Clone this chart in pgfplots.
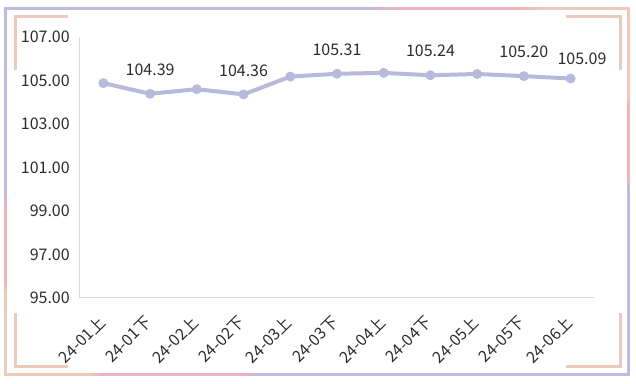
\documentclass[border=0pt]{standalone}
\usepackage{pgfplots}
\pgfplotsset{compat=1.18}
\usepackage{fontspec}
\setmainfont{Noto Sans CJK SC}
\definecolor{lav}{RGB}{189,187,222}
\definecolor{pinkc}{RGB}{237,178,188}
\definecolor{peach}{RGB}{237,203,188}
\definecolor{linec}{RGB}{186,185,220}
\definecolor{axgray}{RGB}{217,217,217}
\definecolor{textc}{RGB}{45,45,45}
% horizontal gradient: x1 x2 y1 y2 colA colB
\newcommand{\hgrad}[6]{\foreach \i in {0,...,9}{\pgfmathtruncatemacro\p{\i*100/9}\pgfmathsetmacro\xa{#1+(#2-#1)*\i/10}\pgfmathsetmacro\xb{#1+(#2-#1)*(\i+1)/10+0.4}\fill[#6!\p!#5] (\xa,#3) rectangle (\xb,#4);}}
% vertical gradient: y1 y2 x1 x2 colA colB
\newcommand{\vgrad}[6]{\foreach \i in {0,...,9}{\pgfmathtruncatemacro\p{\i*100/9}\pgfmathsetmacro\ya{#1+(#2-#1)*\i/10}\pgfmathsetmacro\yb{#1+(#2-#1)*(\i+1)/10+0.4}\fill[#6!\p!#5] (#3,\ya) rectangle (#4,\yb);}}
\begin{document}
\begin{tikzpicture}
\path[use as bounding box] (0,0) rectangle (477pt,288pt);
\fill[white] (0,0) rectangle (477pt,288pt);
\begin{scope}[shift={(0pt,288pt)},x=0.75pt,y=-0.75pt]
% top border
\fill[lav] (3.5,7.5) rectangle (365.4,10.5);
\hgrad{365}{400}{7.5}{10.5}{lav}{pinkc}
\fill[pinkc] (400,7.5) rectangle (515.4,10.5);
\hgrad{515}{550}{7.5}{10.5}{pinkc}{peach}
\fill[peach] (550,7.5) rectangle (629.5,10.5);
% left border
\fill[lav] (3.5,7.5) rectangle (6.5,190.4);
\vgrad{190}{205}{3.5}{6.5}{lav}{pinkc}
\fill[pinkc] (3.5,205) rectangle (6.5,280.4);
\vgrad{280}{295}{3.5}{6.5}{pinkc}{peach}
\fill[peach] (3.5,295) rectangle (6.5,376.5);
% right border
\fill[peach] (626.5,7.5) rectangle (629.5,95.4);
\vgrad{95}{108}{626.5}{629.5}{peach}{pinkc}
\fill[pinkc] (626.5,108) rectangle (629.5,178.4);
\vgrad{178}{190}{626.5}{629.5}{pinkc}{lav}
\fill[lav] (626.5,190) rectangle (629.5,376.5);
% bottom border
\fill[peach] (3.5,373.5) rectangle (85.4,376.5);
\hgrad{85}{105}{373.5}{376.5}{peach}{pinkc}
\fill[pinkc] (105,373.5) rectangle (240.4,376.5);
\hgrad{240}{260}{373.5}{376.5}{pinkc}{lav}
\fill[lav] (260,373.5) rectangle (629.5,376.5);
% corner brackets
\draw[peach, line width=2.25pt] (15,70) -- (15,17) -- (68,17);
\draw[peach, line width=2.25pt] (566,17) -- (620,17) -- (620,70);
\draw[peach, line width=2.25pt] (15,313) -- (15,367) -- (68,367);
\draw[peach, line width=2.25pt] (566,367) -- (620,367) -- (620,313);
\end{scope}
\begin{axis}[
  at={(60pt,64.5pt)}, anchor=south west,
  scale only axis, width=385.5pt, height=195.75pt,
  xmin=-0.5, xmax=10.5, ymin=95, ymax=107,
  axis x line*=bottom, axis y line*=left,
  axis line style={draw=axgray, line width=0.75pt, -},
  major tick length=0pt,
  ytick={95,97,99,101,103,105,107},
  yticklabel style={anchor=east, inner sep=0pt, xshift=-7.5pt, text=textc, font=\fontsize{12}{14}\selectfont,
    /pgf/number format/.cd, fixed, fixed zerofill, precision=2, assume math mode=true},
  xtick={0,1,2,3,4,5,6,7,8,9,10},
  xticklabels={24-01上,24-01下,24-02上,24-02下,24-03上,24-03下,24-04上,24-04下,24-05上,24-05下,24-06上},
  xticklabel style={yshift=-16pt, xshift=-1pt, rotate=45, anchor=east, inner sep=0pt, text=textc, font=\fontsize{12}{14}\selectfont},
  clip=false,
]
\addplot[color=linec, line width=3pt, mark=*, mark size=3.5pt, mark options={solid, fill=linec, draw=linec, line width=0.4pt}]
  coordinates {(0,104.88) (1,104.39) (2,104.60) (3,104.36) (4,105.18) (5,105.31) (6,105.35) (7,105.24) (8,105.30) (9,105.20) (10,105.09)};
\addplot[draw=none, mark=none, point meta=explicit symbolic, nodes near coords,
  every node near coord/.append style={anchor=center, yshift=18pt, text=textc, font=\fontsize{12}{14}\selectfont}]
  coordinates {(1,104.39) [104.39] (3,104.36) [104.36] (5,105.31) [105.31] (7,105.24) [105.24] (9,105.20) [105.20]};
\addplot[draw=none, mark=none, point meta=explicit symbolic, nodes near coords,
  every node near coord/.append style={anchor=center, yshift=15pt, xshift=8.5pt, text=textc, font=\fontsize{12}{14}\selectfont}]
  coordinates {(10,105.09) [105.09]};
\end{axis}
\end{tikzpicture}
\end{document}
